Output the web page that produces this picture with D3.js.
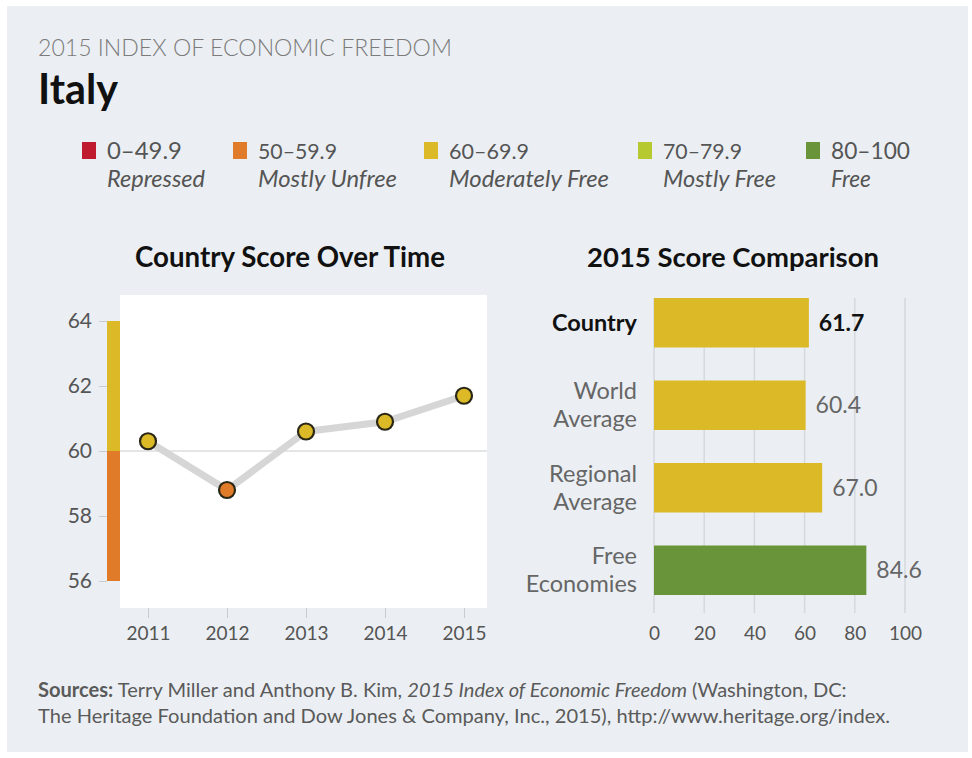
<!DOCTYPE html>
<html>
<head>
<meta charset="utf-8">
<script src="https://cdn.jsdelivr.net/npm/d3@7"></script>
<style>
  html, body { margin: 0; padding: 0; background: #fff; }
  svg { display: block; font-family: Lato, "Open Sans", sans-serif; }
</style>
</head>
<body>
<svg id="chart" width="972" height="758"></svg>
<script>
// ---------- DATA ----------
const years = [2011, 2012, 2013, 2014, 2015];
const scores = [60.3, 58.8, 60.6, 60.9, 61.7];
const yTicks = [56, 58, 60, 62, 64];

const compLabels = [["Country"], ["World", "Average"], ["Regional", "Average"], ["Free", "Economies"]];
const compValues = [61.7, 60.4, 67.0, 84.6];
const compTicks = [0, 20, 40, 60, 80, 100];

const legendRanges = ["0–49.9", "50–59.9", "60–69.9", "70–79.9", "80–100"];
const legendNames = ["Repressed", "Mostly Unfree", "Moderately Free", "Mostly Free", "Free"];
const legendLows = [0, 50, 60, 70, 80];
const legendColors = ["#c01a2e", "#e07b2a", "#dcb927", "#b7c930", "#6a9439"];

// ---------- HELPERS ----------
const svg = d3.select("#chart");
function colorFor(v) {
  let c = legendColors[0];
  legendLows.forEach((lo, i) => { if (v >= lo) c = legendColors[i]; });
  return c;
}
function fitWidth(sel, target) {
  const node = sel.node();
  const w = node.getComputedTextLength();
  const fs = parseFloat(sel.attr("font-size"));
  sel.attr("font-size", (fs * target / w).toFixed(2));
}

// ---------- BACKGROUND ----------
svg.append("rect").attr("x", 7).attr("y", 6).attr("width", 961).attr("height", 746).attr("fill", "#ebeff3");

// ---------- HEADER ----------
const hdr = svg.append("text").attr("x", 38).attr("y", 56).attr("font-size", 21)
  .attr("fill", "#7b7b7b").attr("font-weight", 300).text("2015 INDEX OF ECONOMIC FREEDOM");
fitWidth(hdr, 414);
const ttl = svg.append("text").attr("x", 38).attr("y", 104).attr("font-size", 40)
  .attr("font-weight", 700).attr("fill", "#111").text("Italy");
fitWidth(ttl, 80);

// ---------- LEGEND ----------
const legendX = [82, 233, 424, 638, 806];
const numW = [75, 79, 80, 79, 79];
const nameW = [98, 139, 160, 113, 40];
legendRanges.forEach((r, i) => {
  const g = svg.append("g").attr("transform", `translate(${legendX[i]},0)`);
  g.append("rect").attr("x", 0).attr("y", 142).attr("width", 14).attr("height", 17).attr("fill", legendColors[i]);
  const t1 = g.append("text").attr("x", 25).attr("y", 159).attr("font-size", 21).attr("fill", "#555").text(r);
  fitWidth(t1, numW[i]);
  const t2 = g.append("text").attr("x", 25).attr("y", 187).attr("font-size", 20).attr("fill", "#555")
    .attr("font-style", "italic").text(legendNames[i]);
  fitWidth(t2, nameW[i]);
});

// ---------- LINE CHART ----------
svg.append("text").attr("x", 290).attr("y", 267).attr("text-anchor", "middle").attr("font-size", 24)
  .attr("font-weight", 700).attr("fill", "#111").text("Country Score Over Time")
  .call(s => fitWidth(s, 310));

const plotL = 120, plotR = 487, plotT = 295, plotB = 608;
svg.append("rect").attr("x", plotL).attr("y", plotT).attr("width", plotR - plotL).attr("height", plotB - plotT).attr("fill", "#fff");

const y = d3.scaleLinear().domain([56, 64]).range([581, 321]);
const x = d3.scalePoint().domain(years).range([148, 464]);

// colour band on the axis
const bands = [[56, 60], [60, 64]];
svg.append("g").selectAll("rect").data(bands).join("rect")
  .attr("x", 107).attr("width", 13)
  .attr("y", d => y(d[1])).attr("height", d => y(d[0]) - y(d[1]))
  .attr("fill", d => colorFor(d[0]));

// y axis
const yAxis = svg.append("g").attr("transform", "translate(107,0)")
  .call(d3.axisLeft(y).tickValues(yTicks).tickSize(8).tickPadding(7).tickFormat(d3.format("d")));
yAxis.select(".domain").remove();
yAxis.selectAll(".tick line").attr("stroke", "#c8cbd0").attr("stroke-width", 1);
yAxis.selectAll(".tick text").attr("font-size", 21).attr("fill", "#555").attr("font-family", "Lato, sans-serif");

// reference line at 60
svg.append("line").attr("x1", plotL).attr("x2", plotR).attr("y1", y(60)).attr("y2", y(60))
  .attr("stroke", "#e4e5e7").attr("stroke-width", 2);

// x axis
const xAxis = svg.append("g").attr("transform", `translate(0,${plotB})`)
  .call(d3.axisBottom(x).tickSize(10).tickPadding(9).tickFormat(d3.format("d")));
xAxis.select(".domain").remove();
xAxis.selectAll(".tick line").attr("stroke", "#c8cbd0");
xAxis.selectAll(".tick text").attr("font-size", 19).attr("fill", "#555").attr("font-family", "Lato, sans-serif");

// line + points
const pts = years.map((yr, i) => ({ yr, v: scores[i] }));
svg.append("path").datum(pts)
  .attr("d", d3.line().x(d => x(d.yr)).y(d => y(d.v)))
  .attr("fill", "none").attr("stroke", "#d6d6d6").attr("stroke-width", 7).attr("stroke-linejoin", "round");
svg.append("g").selectAll("circle").data(pts).join("circle")
  .attr("cx", d => x(d.yr)).attr("cy", d => y(d.v)).attr("r", 8)
  .attr("fill", d => colorFor(d.v)).attr("stroke", "#2b2716").attr("stroke-width", 2.2);

// ---------- BAR CHART ----------
svg.append("text").attr("x", 733).attr("y", 267).attr("text-anchor", "middle").attr("font-size", 24)
  .attr("font-weight", 700).attr("fill", "#111").text("2015 Score Comparison")
  .call(s => fitWidth(s, 292));

const bx = d3.scaleLinear().domain([0, 100]).range([654, 905]);
const by = d3.scaleBand().domain(d3.range(compValues.length)).range([281.5, 611.5]).paddingInner(0.4).paddingOuter(0.2);

// grid
svg.append("g").selectAll("line").data(compTicks).join("line")
  .attr("x1", d => bx(d)).attr("x2", d => bx(d)).attr("y1", 298).attr("y2", 613)
  .attr("stroke", "#d5d9de").attr("stroke-width", 1.5);

// bars
svg.append("g").selectAll("rect").data(compValues).join("rect")
  .attr("x", bx(0)).attr("y", (d, i) => by(i)).attr("width", d => bx(d) - bx(0)).attr("height", by.bandwidth())
  .attr("fill", d => colorFor(d));

// value labels
svg.append("g").selectAll("text").data(compValues).join("text")
  .attr("x", d => bx(d) + 10).attr("y", (d, i) => by(i) + by.bandwidth() / 2 + 8)
  .attr("font-size", 23)
  .attr("font-weight", (d, i) => i === 0 ? 700 : 400)
  .attr("fill", (d, i) => i === 0 ? "#111" : "#666")
  .text(d => d3.format(".1f")(d));

// category labels
compLabels.forEach((lines, i) => {
  const cy = by(i) + by.bandwidth() / 2;
  const t = svg.append("text").attr("x", 637).attr("text-anchor", "end").attr("font-size", 23.5)
    .attr("font-weight", i === 0 ? 700 : 400).attr("fill", i === 0 ? "#111" : "#666");
  const n = lines.length;
  lines.forEach((ln, j) => {
    t.append("tspan").attr("x", 637).attr("y", cy + 8 + (j - (n - 1) / 2) * 28).text(ln);
  });
});

// x axis for bars
const bAxis = svg.append("g").attr("transform", "translate(0,613)")
  .call(d3.axisBottom(bx).tickValues(compTicks).tickSize(0).tickPadding(14));
bAxis.select(".domain").remove();
bAxis.selectAll(".tick text").attr("font-size", 19).attr("fill", "#555").attr("font-family", "Lato, sans-serif");

// ---------- FOOTER ----------
const f1 = svg.append("text").attr("x", 38).attr("y", 697).attr("font-size", 17).attr("fill", "#5a5a5a");
f1.append("tspan").attr("font-weight", 700).text("Sources:");
f1.append("tspan").text(" Terry Miller and Anthony B. Kim, ");
f1.append("tspan").attr("font-style", "italic").text("2015 Index of Economic Freedom");
f1.append("tspan").text(" (Washington, DC:");
fitWidth(f1, 809);
const f2 = svg.append("text").attr("x", 38).attr("y", 723).attr("font-size", 17).attr("fill", "#5a5a5a")
  .text("The Heritage Foundation and Dow Jones & Company, Inc., 2015), http://www.heritage.org/index.");
fitWidth(f2, 852);
</script>
</body>
</html>
